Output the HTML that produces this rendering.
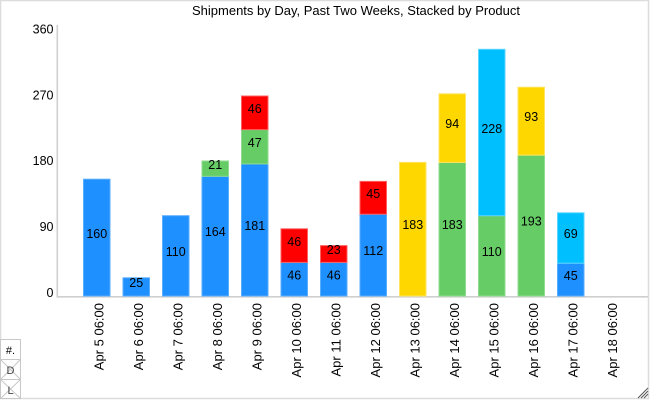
<!DOCTYPE html>
<html><head><meta charset="utf-8"><style>
html,body{margin:0;padding:0;background:#fff;}
svg{display:block;font-family:"Liberation Sans","DejaVu Sans",sans-serif;}
</style></head><body>
<svg width="650" height="400" viewBox="0 0 650 400" xmlns="http://www.w3.org/2000/svg">
<rect x="0.5" y="0.5" width="648" height="398" fill="#fff" stroke="#dcdcdc" stroke-width="1.5"/>
<text x="192" y="15" font-size="12.5" fill="#000" textLength="328" lengthAdjust="spacingAndGlyphs">Shipments by Day, Past Two Weeks, Stacked by Product</text>
<!-- axes -->
<line x1="57.3" y1="25" x2="57.3" y2="297" stroke="#cfcfcf" stroke-width="1.6"/>
<line x1="56.5" y1="296.8" x2="648" y2="296.8" stroke="#cfcfcf" stroke-width="1.6"/>
<g font-size="12.5" text-anchor="end" fill="#000">
<text x="53.5" y="33.5">360</text>
<text x="53.5" y="99.5">270</text>
<text x="53.5" y="165">180</text>
<text x="53.5" y="231">90</text>
<text x="53.5" y="297">0</text>
</g>
<!-- bars -->
<g stroke-width="1">
<!-- Apr 5 -->
<rect x="83.5" y="179.2" width="26.5" height="116.8" fill="#1E90FF" stroke="#5aaeff"/>
<!-- Apr 6 -->
<rect x="123" y="277.8" width="26.5" height="18.2" fill="#1E90FF" stroke="#5aaeff"/>
<!-- Apr 7 -->
<rect x="162.5" y="215.7" width="26.5" height="80.3" fill="#1E90FF" stroke="#5aaeff"/>
<!-- Apr 8 -->
<rect x="202" y="176.3" width="26.5" height="119.7" fill="#1E90FF" stroke="#5aaeff"/>
<rect x="202" y="161" width="26.5" height="15.3" fill="#66CC66" stroke="#8fdb8f"/>
<!-- Apr 9 -->
<rect x="241.5" y="163.9" width="26.5" height="132.1" fill="#1E90FF" stroke="#5aaeff"/>
<rect x="241.5" y="129.6" width="26.5" height="34.3" fill="#66CC66" stroke="#8fdb8f"/>
<rect x="241.5" y="96" width="26.5" height="33.6" fill="#FF0000" stroke="#ff6060"/>
<!-- Apr 10 -->
<rect x="281" y="262.4" width="26.5" height="33.6" fill="#1E90FF" stroke="#5aaeff"/>
<rect x="281" y="228.8" width="26.5" height="33.6" fill="#FF0000" stroke="#ff6060"/>
<!-- Apr 11 -->
<rect x="320.5" y="262.4" width="26.5" height="33.6" fill="#1E90FF" stroke="#5aaeff"/>
<rect x="320.5" y="245.6" width="26.5" height="16.8" fill="#FF0000" stroke="#ff6060"/>
<!-- Apr 12 -->
<rect x="360" y="214.2" width="26.5" height="81.8" fill="#1E90FF" stroke="#5aaeff"/>
<rect x="360" y="181.4" width="26.5" height="32.8" fill="#FF0000" stroke="#ff6060"/>
<!-- Apr 13 -->
<rect x="399.5" y="162.4" width="26.5" height="133.6" fill="#FFD700" stroke="#ffe460"/>
<!-- Apr 14 -->
<rect x="439" y="162.4" width="26.5" height="133.6" fill="#66CC66" stroke="#8fdb8f"/>
<rect x="439" y="93.8" width="26.5" height="68.6" fill="#FFD700" stroke="#ffe460"/>
<!-- Apr 15 -->
<rect x="478.5" y="215.7" width="26.5" height="80.3" fill="#66CC66" stroke="#8fdb8f"/>
<rect x="478.5" y="49.3" width="26.5" height="166.4" fill="#00BFFF" stroke="#5cd5ff"/>
<!-- Apr 16 -->
<rect x="518" y="155.1" width="26.5" height="140.9" fill="#66CC66" stroke="#8fdb8f"/>
<rect x="518" y="87.2" width="26.5" height="67.9" fill="#FFD700" stroke="#ffe460"/>
<!-- Apr 17 -->
<rect x="557.5" y="263.2" width="26.5" height="32.8" fill="#1E90FF" stroke="#5aaeff"/>
<rect x="557.5" y="212.8" width="26.5" height="50.4" fill="#00BFFF" stroke="#5cd5ff"/>
</g>
<!-- segment labels -->
<g font-size="12.5" text-anchor="middle" fill="#000">
<text x="96.75" y="238">160</text>
<text x="136.25" y="287">25</text>
<text x="175.75" y="256">110</text>
<text x="215.25" y="236">164</text>
<text x="215.25" y="169">21</text>
<text x="254.75" y="230">181</text>
<text x="254.75" y="147">47</text>
<text x="254.75" y="113">46</text>
<text x="294.25" y="279.5">46</text>
<text x="294.25" y="246">46</text>
<text x="333.75" y="279.5">46</text>
<text x="333.75" y="254">23</text>
<text x="373.25" y="255">112</text>
<text x="373.25" y="198">45</text>
<text x="412.75" y="229">183</text>
<text x="452.25" y="229">183</text>
<text x="452.25" y="128">94</text>
<text x="491.75" y="256">110</text>
<text x="491.75" y="133">228</text>
<text x="531.25" y="225.5">193</text>
<text x="531.25" y="121">93</text>
<text x="570.75" y="280">45</text>
<text x="570.75" y="238">69</text>
</g>
<!-- x labels -->
<g font-size="13" text-anchor="end" fill="#000">
<text transform="translate(103.6,303) rotate(-90)">Apr 5 06:00</text>
<text transform="translate(143.1,303) rotate(-90)">Apr 6 06:00</text>
<text transform="translate(182.6,303) rotate(-90)">Apr 7 06:00</text>
<text transform="translate(222.1,303) rotate(-90)">Apr 8 06:00</text>
<text transform="translate(261.6,303) rotate(-90)">Apr 9 06:00</text>
<text transform="translate(301.1,303) rotate(-90)">Apr 10 06:00</text>
<text transform="translate(340.6,303) rotate(-90)">Apr 11 06:00</text>
<text transform="translate(380.1,303) rotate(-90)">Apr 12 06:00</text>
<text transform="translate(419.6,303) rotate(-90)">Apr 13 06:00</text>
<text transform="translate(459.1,303) rotate(-90)">Apr 14 06:00</text>
<text transform="translate(498.6,303) rotate(-90)">Apr 15 06:00</text>
<text transform="translate(538.1,303) rotate(-90)">Apr 16 06:00</text>
<text transform="translate(577.6,303) rotate(-90)">Apr 17 06:00</text>
<text transform="translate(617.1,303) rotate(-90)">Apr 18 06:00</text>
</g>
<!-- bottom-left widget -->
<g stroke="#c8c8c8" stroke-width="1" fill="none">
<rect x="0.5" y="339.5" width="20" height="20" fill="#fff"/>
<rect x="0.5" y="359.5" width="20" height="20" fill="#fff"/>
<rect x="0.5" y="379.5" width="20" height="19" fill="#fff"/>
<line x1="0.5" y1="359.5" x2="20.5" y2="379.5"/>
<line x1="20.5" y1="359.5" x2="0.5" y2="379.5"/>
<line x1="0.5" y1="379.5" x2="20.5" y2="398.5"/>
<line x1="20.5" y1="379.5" x2="0.5" y2="398.5"/>
</g>
<g font-size="11" fill="#000" text-anchor="middle">
<text x="10.5" y="354">#.</text>
<text x="10.5" y="374" fill="#444">D</text>
<text x="10.5" y="394" fill="#444">L</text>
</g>
<!-- resize grip -->
<g stroke="#555" stroke-width="1">
<line x1="638" y1="398" x2="648" y2="388"/>
<line x1="641" y1="398" x2="648" y2="391"/>
<line x1="644" y1="398" x2="648" y2="394"/>
</g>
</svg>
</body></html>
